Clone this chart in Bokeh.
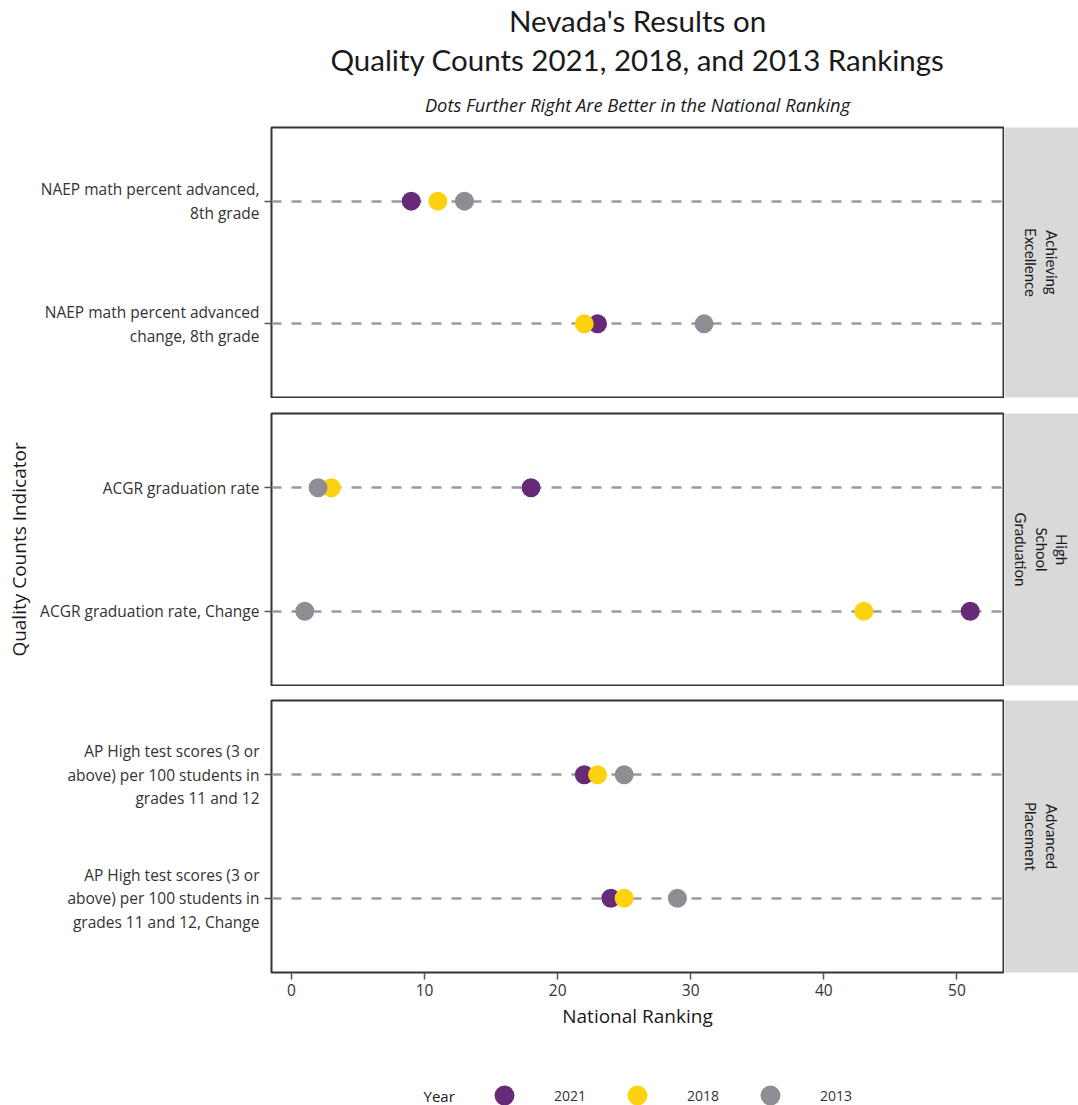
import math
from bokeh.plotting import figure
from bokeh.models import (FactorRange, Range1d, FixedTicker, Title, Legend,
                          LegendItem, Label, ColumnDataSource)
from bokeh.layouts import column, row
from bokeh.embed import file_html
from bokeh.resources import INLINE

# ---------------- data ----------------
title_lines = ["Nevada's Results on", "Quality Counts 2021, 2018, and 2013 Rankings"]
subtitle = "Dots Further Right Are Better in the National Ranking"
x_label = "National Ranking"
y_label = "Quality Counts Indicator"
legend_title = "Year"

facets = ["Achieving\nExcellence", "High\nSchool\nGraduation", "Advanced\nPlacement"]
indicators = [
    "NAEP math percent advanced,\n8th grade",
    "NAEP math percent advanced\nchange, 8th grade",
    "ACGR graduation rate",
    "ACGR graduation rate, Change",
    "AP High test scores (3 or\nabove) per 100 students in\ngrades 11 and 12",
    "AP High test scores (3 or\nabove) per 100 students in\ngrades 11 and 12, Change",
]
indicator_facet = [0, 0, 1, 1, 2, 2]

years = ["2021", "2018", "2013"]
rank_2021 = [9, 23, 18, 51, 22, 24]
rank_2018 = [11, 22, 3, 43, 23, 25]
rank_2013 = [13, 31, 2, 1, 25, 29]
year_colors = ["#672a78", "#ffd20f", "#8f8c93"]
x_ticks = [0, 10, 20, 30, 40, 50]

# ---------------- style ----------------
TICK_FONT = "Open Sans"
TITLE_FONT = "Lato"
FRAME_LEFT = 271
PANEL_W = 1004
STRIP_W = 74
TOTAL_W = PANEL_W + STRIP_W
# (top border, bottom border, figure height) per panel
panel_geom = [(126, 1, 398), (15, 1, 288), (14, 70, 356)]
LEGEND_H = 1105 - sum(g[2] for g in panel_geom)

ranks = [rank_2021, rank_2018, rank_2013]
all_vals = rank_2021 + rank_2018 + rank_2013
lo, hi = min(all_vals), max(all_vals)
pad = 0.05 * (hi - lo)
x_start, x_end = lo - pad, hi + pad

rows = []
for fi, facet in enumerate(facets):
    top, bottom, height = panel_geom[fi]
    idx = [i for i, f in enumerate(indicator_facet) if f == fi]
    cats = [indicators[i] for i in idx][::-1]  # bottom first
    last = fi == len(facets) - 1
    p = figure(width=PANEL_W, height=height,
               x_range=Range1d(x_start, x_end),
               y_range=FactorRange(factors=cats, range_padding=0.1),
               output_backend="svg", toolbar_location=None,
               title_location=None,
               x_axis_location="below" if last else None,
               min_border_left=FRAME_LEFT, min_border_right=1,
               min_border_top=top, min_border_bottom=bottom)
    p.background_fill_color = "white"
    p.border_fill_color = "white"
    p.outline_line_color = "#333333"
    p.outline_line_width = 2
    p.xgrid.visible = False
    p.ygrid.grid_line_color = "#9a9a9a"
    p.ygrid.grid_line_width = 2.5
    p.ygrid.grid_line_dash = "10 10"

    ax = p.yaxis[0]
    ax.axis_line_color = None
    ax.major_tick_out = 7
    ax.major_tick_in = 0
    ax.major_tick_line_color = "#555555"
    ax.major_tick_line_width = 1.5
    ax.major_label_standoff = 5
    ax.major_label_text_font = TICK_FONT
    ax.major_label_text_font_size = "15.5px"
    ax.major_label_text_color = "#333333"
    ax.major_label_text_line_height = 1.08
    if fi == 1:
        ax.axis_label = y_label
        ax.axis_label_text_font = TICK_FONT
        ax.axis_label_text_font_size = "19px"
        ax.axis_label_text_font_style = "normal"
        ax.axis_label_text_color = "#1a1a1a"
        ax.axis_label_standoff = 5

    for yi, yr in enumerate(years):
        src = ColumnDataSource(data=dict(
            x=[ranks[yi][i] for i in idx],
            y=[indicators[i] for i in idx]))
        p.scatter("x", "y", source=src, size=19,
                  fill_color=year_colors[yi], line_color=None)

    if last:
        xa = p.xaxis[0]
        xa.ticker = FixedTicker(ticks=x_ticks)
        xa.axis_line_color = None
        xa.major_tick_out = 7
        xa.major_tick_in = 0
        xa.minor_tick_line_color = None
        xa.major_tick_line_color = "#555555"
        xa.major_tick_line_width = 1.5
        xa.major_label_standoff = 4
        xa.major_label_text_font = TICK_FONT
        xa.major_label_text_font_size = "15.5px"
        xa.major_label_text_color = "#333333"
        xa.axis_label = x_label
        xa.axis_label_text_font = TICK_FONT
        xa.axis_label_text_font_size = "19px"
        xa.axis_label_text_font_style = "normal"
        xa.axis_label_text_color = "#1a1a1a"
        xa.axis_label_standoff = 4

    if fi == 0:
        p.add_layout(Title(text=subtitle, align="center", text_font=TICK_FONT,
                           text_font_size="18.3px", text_font_style="italic",
                           text_color="#1a1a1a", standoff=21), "above")
        p.add_layout(Title(text=title_lines[1], align="center", text_font=TITLE_FONT,
                           text_font_size="29.5px", text_font_style="normal",
                           text_color="#1a1a1a", standoff=5), "above")
        p.add_layout(Title(text=title_lines[0], align="center", text_font=TITLE_FONT,
                           text_font_size="29.5px", text_font_style="normal",
                           text_color="#1a1a1a", standoff=0), "above")

    s = figure(width=STRIP_W, height=height, x_range=Range1d(0, 1),
               y_range=Range1d(0, 1), output_backend="svg",
               toolbar_location=None, title_location=None,
               x_axis_location=None, y_axis_location=None,
               min_border_left=0, min_border_right=0,
               min_border_top=top, min_border_bottom=bottom)
    s.background_fill_color = "#d9d9d9"
    s.border_fill_color = "white"
    s.outline_line_color = None
    s.grid.visible = False
    s.add_layout(Label(x=0.5, y=0.5, text=facet, angle=-math.pi / 2,
                       text_align="center", text_baseline="middle",
                       text_font=TITLE_FONT, text_font_size="15px",
                       text_color="#1a1a1a", text_line_height=1.15))
    rows.append(row(p, s, spacing=0))

# ---------------- legend strip ----------------
lf = figure(width=TOTAL_W, height=LEGEND_H, x_range=Range1d(0, 1),
            y_range=Range1d(0, 1), output_backend="svg",
            toolbar_location=None, title_location=None,
            x_axis_location=None, y_axis_location=None,
            min_border_left=0, min_border_right=0,
            min_border_top=0, min_border_bottom=0)
lf.outline_line_color = None
lf.grid.visible = False
items = []
nan = float("nan")
for yi, yr in enumerate(years):
    # legend-key renderer only (no visible point)
    r = lf.scatter(x=[nan], y=[nan], size=19, fill_color=year_colors[yi],
                   line_color=None)
    items.append(LegendItem(label=yr, renderers=[r]))
legend = Legend(items=items, location=(479, -15), orientation="horizontal",
                glyph_width=50, glyph_height=50,
                label_standoff=25, spacing=26, padding=0, margin=0,
                border_line_color=None, background_fill_alpha=0,
                label_text_font=TICK_FONT, label_text_font_size="14px",
                label_text_color="#333333")
lf.add_layout(legend, "center")
lf.add_layout(Label(x=423, y=10, x_units="screen", y_units="screen",
                    text=legend_title, text_font=TICK_FONT,
                    text_font_size="15px", text_color="#1a1a1a",
                    text_baseline="middle", text_align="left"))

layout = column(*rows, lf, spacing=0)
open("out.html", "w").write(file_html(layout, INLINE))
